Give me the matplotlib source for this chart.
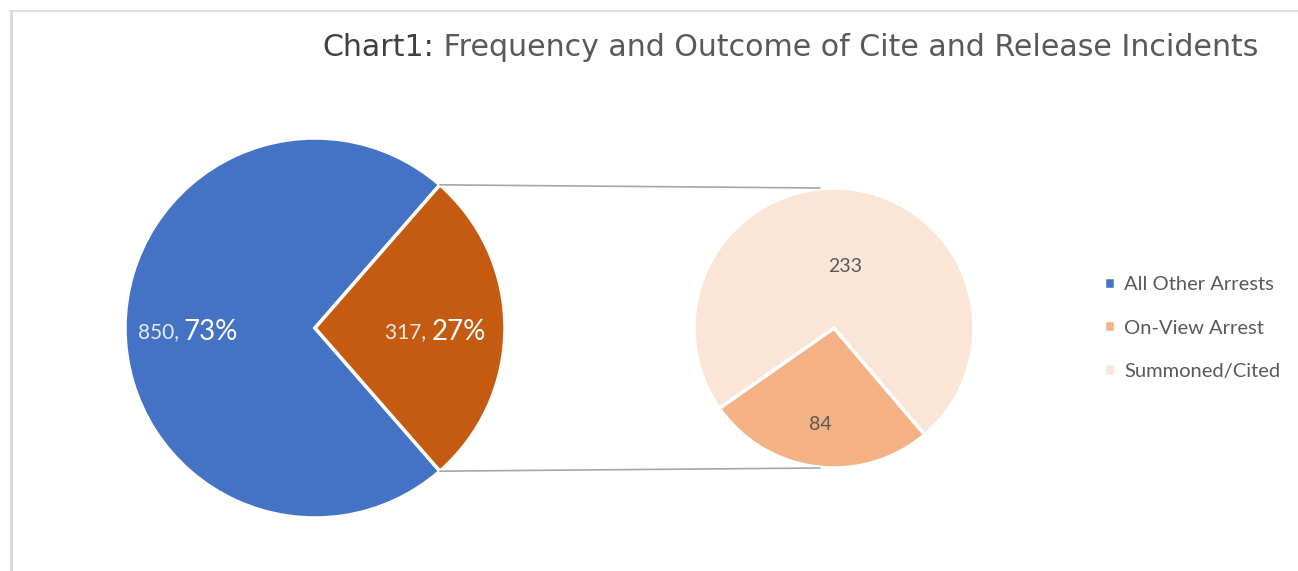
import numpy as np
import matplotlib.pyplot as plt
from matplotlib.patches import ConnectionPatch
from matplotlib.lines import Line2D

plt.rcParams['font.family'] = ['Lato', 'DejaVu Sans']

# data
main_labels = ['All Other Arrests', 'Cite and Release']
main_values = [850, 317]
sub_labels = ['On-View Arrest', 'Summoned/Cited']
sub_values = [84, 233]
title_head = 'Chart1:'
title_rest = ' Frequency and Outcome of Cite and Release Incidents'

main_colors = ['#4472C4', '#C55A11']
sub_colors = ['#F4B183', '#FBE5D6']

W, H = 1298, 571
fig = plt.figure(figsize=(W / 100, H / 100), dpi=100)

def px_axes(cx, cy, r):
    # cy measured from the top of the image
    return fig.add_axes([(cx - r) / W, (H - cy - r) / H, 2 * r / W, 2 * r / H])

ax1 = px_axes(315, 328, 190)
ax2 = px_axes(834, 328, 140)

total = sum(main_values)
half = 360 * main_values[1] / total / 2
w1, _ = ax1.pie(main_values, colors=main_colors, startangle=half, radius=1,
                wedgeprops=dict(edgecolor='white', linewidth=2.5))
w2, _ = ax2.pie(sub_values, colors=sub_colors, startangle=215, radius=1,
                wedgeprops=dict(edgecolor='white', linewidth=2.5))
for ax in (ax1, ax2):
    ax.set_xlim(-1, 1)
    ax.set_ylim(-1, 1)
    ax.set_aspect('equal')
    ax.axis('off')

# labels on main pie
pcts = [round(100 * v / total) for v in main_values]
for x_pos, v, p in zip([-0.69, 0.615], main_values, pcts):
    ax1.text(x_pos, -0.02, f'{v}, ', ha='right', va='center', color='#EAEAEA', fontsize=15)
    ax1.text(x_pos, -0.02, f'{p}%', ha='left', va='center', color='white', fontsize=20)

# labels on sub pie
ax2.text(-0.1, -0.69, str(sub_values[0]), ha='center', va='center', color='#595959', fontsize=14)
ax2.text(0.08, 0.44, str(sub_values[1]), ha='center', va='center', color='#595959', fontsize=14)

# connector lines
a = np.deg2rad(half)
for s in (1, -1):
    con = ConnectionPatch(xyA=(np.cos(a), s * np.sin(a)), coordsA=ax1.transData,
                          xyB=(-0.1, s * 1.0), coordsB=ax2.transData,
                          color='#A6A6A6', lw=1.2)
    fig.add_artist(con)

# legend
fig.legend([w1[0], w2[0], w2[1]], ['All Other Arrests', sub_labels[0], sub_labels[1]],
           loc='center left', bbox_to_anchor=(1086 / W, (H - 328) / H), frameon=False,
           handlelength=0.55, handleheight=0.55, handletextpad=0.45, labelspacing=1.3,
           fontsize=14.5, labelcolor='#595959')

# title
t_rest = fig.text(1258 / W, (H - 48) / H, title_rest, ha='right', va='center',
                  fontsize=21.6, color='#595959', family='DejaVu Sans')
fig.canvas.draw()
bb = t_rest.get_window_extent()
fig.text(bb.x0 / W, (H - 48) / H, title_head, ha='right', va='center',
         fontsize=21.6, color='#404040', family='DejaVu Sans')

# frame lines
fig.add_artist(Line2D([10 / W, 1], [(H - 11) / H] * 2, color='#D9D9D9', lw=1.2))
fig.add_artist(Line2D([10.5 / W] * 2, [0, (H - 11) / H], color='#D9D9D9', lw=2))

fig.savefig('out.png', dpi=100)
